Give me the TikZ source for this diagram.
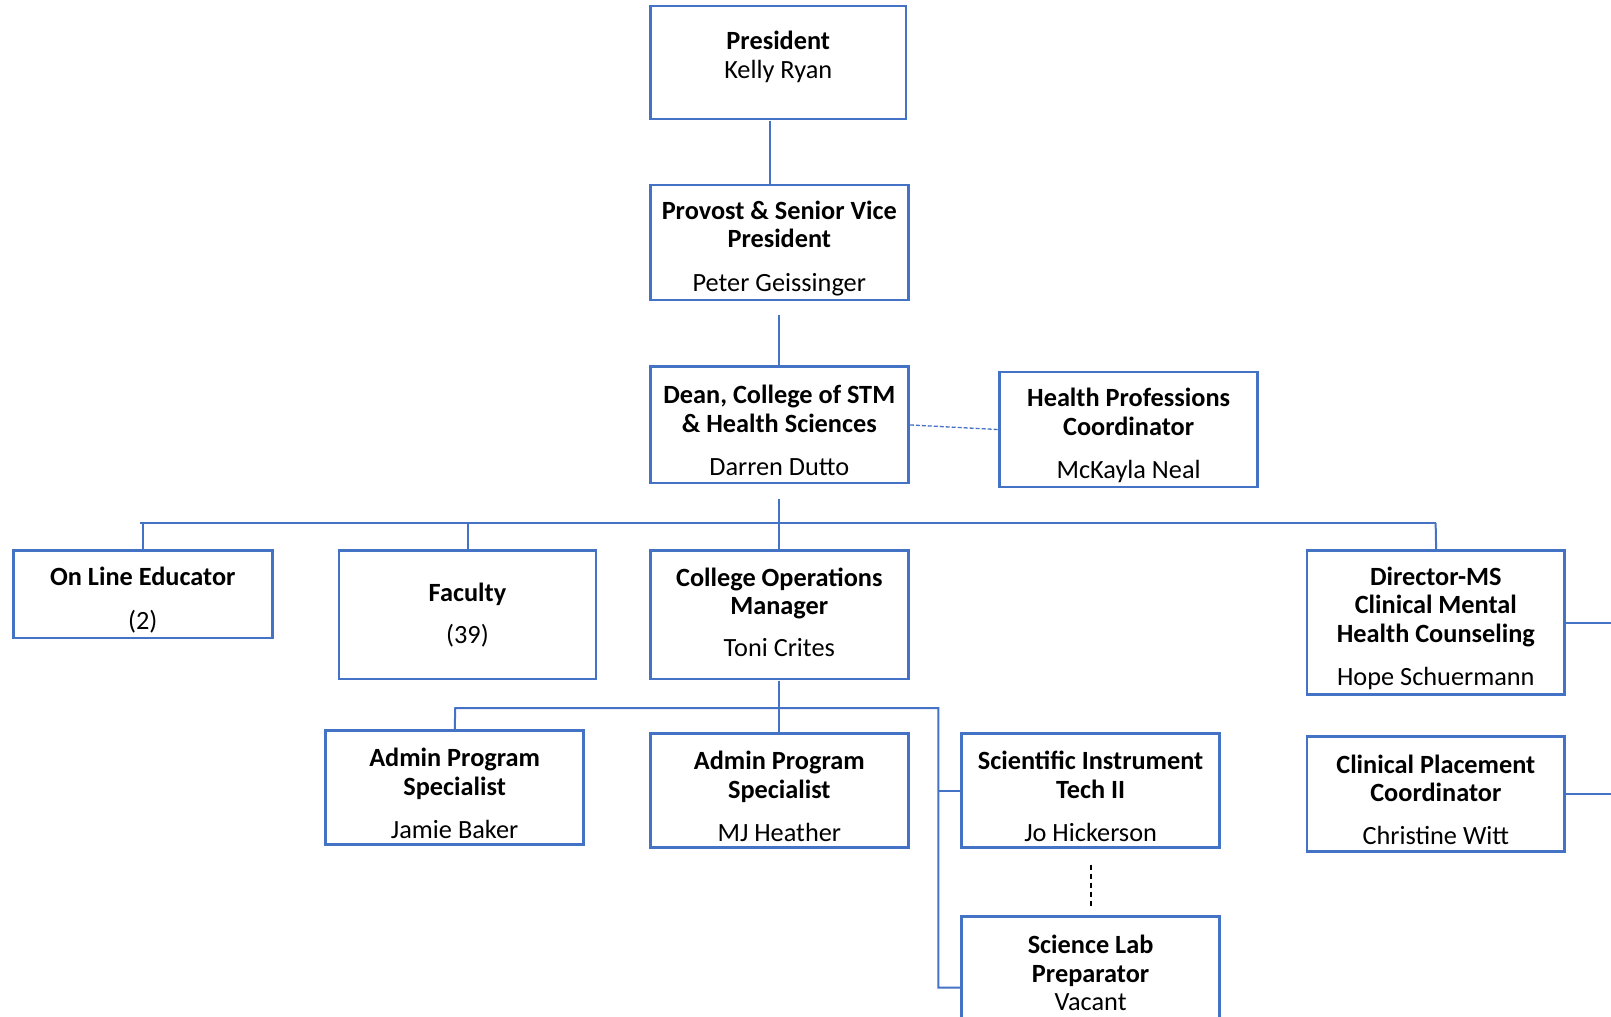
\documentclass[tikz,border=0pt]{standalone}
\usepackage{fontspec}
\setmainfont{Carlito}
\usepackage{tikz}
\usetikzlibrary{calc, positioning}
\definecolor{orgblue}{HTML}{4472C4}
\newcommand{\orgtop}{\rule{0pt}{29pt}}

\begin{document}
\begin{tikzpicture}[x=1pt, y=-1pt, scale=1.02742, every node/.append style={transform shape}]
\tikzstyle{org_box}=[rectangle, draw=orgblue, line width=2.6pt, align=center,
	minimum width=251pt, inner sep=2pt, font=\fontsize{25.6}{28}\selectfont]
\tikzstyle{org_line}=[draw=orgblue, line width=2pt]
\tikzstyle{org_dash}=[draw=orgblue, line width=1.3pt, dash pattern=on 4pt off 2pt]

\useasboundingbox (0,0) rectangle (1568,988.9);
\clip (0,0) rectangle (1568,988.9);

% top of the chart
\node at (757.5,61) [org_box, minimum width=249pt, minimum height=110pt] (president)
	{\textbf{President}\\Kelly Ryan\rule[-16pt]{0pt}{0pt}};
\node at (758.5,236) [org_box, minimum height=112pt] (provost)
	{\orgtop\textbf{Provost \& Senior Vice}\\\textbf{President}\\[14pt]Peter Geissinger};
\node at (758.5,413.5) [org_box, minimum height=113pt] (dean)
	{\orgtop\textbf{Dean, College of STM}\\\textbf{\& Health Sciences}\\[14pt]Darren Dutto};
\node at (1098.5,418) [org_box, minimum height=112pt] (hpc)
	{\orgtop\textbf{Health Professions}\\\textbf{Coordinator}\\[14pt]McKayla Neal};

% second level
\node at (139,578.5) [org_box, minimum width=252pt, minimum height=85pt] (online)
	{\orgtop\textbf{On Line Educator}\\[14pt](2)};
\node at (455,598.5) [org_box, minimum width=250pt, minimum height=125pt] (faculty)
	{\textbf{Faculty}\\[13pt](39)};
\node at (758.5,598.5) [org_box, minimum height=125pt] (com)
	{\textbf{College Operations}\\\textbf{Manager}\\[12pt]Toni Crites\rule[-6pt]{0pt}{0pt}};
\node at (1397.5,606) [org_box, minimum height=140pt] (director)
	{\orgtop\textbf{Director-MS}\\\textbf{Clinical Mental}\\\textbf{Health Counseling}\\[14pt]Hope Schuermann};
\node at (1397.5,773) [org_box, minimum height=112pt] (clin)
	{\orgtop\textbf{Clinical Placement}\\\textbf{Coordinator}\\[14pt]Christine Witt};

% under operations manager
\node at (442.5,766.5) [org_box, minimum height=111pt] (jamie)
	{\orgtop\textbf{Admin Program}\\\textbf{Specialist}\\[14pt]Jamie Baker};
\node at (758.5,769.5) [org_box, minimum height=111pt] (mj)
	{\orgtop\textbf{Admin Program}\\\textbf{Specialist}\\[14pt]MJ Heather};
\node at (1061.5,769.5) [org_box, minimum height=111pt] (sit)
	{\orgtop\textbf{Scientific Instrument}\\\textbf{Tech II}\\[14pt]Jo Hickerson};
\node at (1061.5,961) [org_box, minimum height=138pt] (slp)
	{\textbf{Science Lab}\\\textbf{Preparator}\\Vacant\\\mbox{}};

\coordinate (bus_l) at (136,509);
\coordinate (bus_r) at (1397,509);
\coordinate (sub_l) at (443,689);
\coordinate (sub_r) at (913,689);
\coordinate (edge) at (1568,0);

\draw[org_line] ([xshift=-8pt]president.south) -- ([xshift=-8pt]president.south |- provost.north);
\draw[org_line] ([yshift=-13pt]provost.south) -- (dean.north);
\draw[org_dash] (dean.east) -- (hpc.west);

\draw[org_line] ([yshift=-14pt]dean.south) -- (dean.south |- bus_l);
\draw[org_line] (bus_l) -- (bus_r);
\draw[org_line] (online.north |- bus_l) -- (online.north);
\draw[org_line] (faculty.north |- bus_l) -- (faculty.north);
\draw[org_line] (com.north |- bus_l) -- (com.north);
\draw[org_line] (bus_r) -- (director.north);

\draw[org_line] (com.south) -- (com.south |- sub_l);
\draw[org_line] (jamie.north) -- (sub_l) -- (sub_r) -- (sub_r |- slp.west) -- (slp.west);
\draw[org_line] (mj.north |- sub_l) -- (mj.north);
\draw[org_line] (sub_r |- sit.west) -- (sit.west);
\draw[line width=1.3pt, dash pattern=on 5pt off 4pt] ([yshift=-15pt]sit.south) -- ([yshift=7pt]slp.north);

\draw[org_line] (director.east) -- (director.east -| edge);
\draw[org_line] (clin.east) -- (clin.east -| edge);

\end{tikzpicture}
\end{document}
